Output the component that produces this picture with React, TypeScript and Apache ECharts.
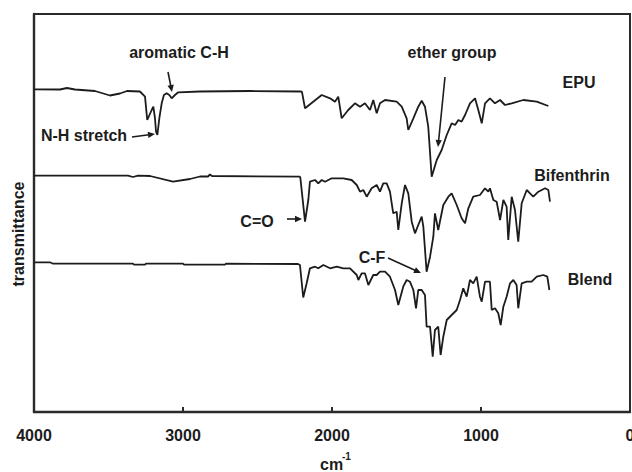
import React, { useEffect, useRef } from "react";
import * as echarts from "echarts";

// Wavenumbers (cm-1) and transmittance (arbitrary units, curves offset)
const epuWavenumber = [4000, 3825, 3779, 3725, 3591, 3490, 3423, 3376, 3289, 3255, 3240, 3210, 3199, 3188, 3181, 3172, 3159, 3143, 3128, 3110, 3092, 3076, 3054, 3032, 2886, 2550, 2215, 2202, 2181, 2126, 2069, 2013, 1980, 1958, 1935, 1891, 1846, 1812, 1779, 1745, 1723, 1700, 1678, 1644, 1566, 1532, 1499, 1488, 1454, 1421, 1398, 1376, 1354, 1331, 1297, 1264, 1230, 1197, 1174, 1152, 1130, 1107, 1074, 1040, 1018, 995, 973, 940, 906, 872, 839, 794, 716, 626, 548];
const epuTransmittance = [322.7, 322.5, 324, 322.5, 321, 316.5, 318.5, 321, 320.5, 315.3, 292, 302, 305.3, 293.7, 280.3, 277, 293.7, 308.7, 317, 318.7, 317, 313.7, 317, 319.7, 320.5, 321, 320.5, 320.3, 303.7, 310.3, 317, 313.7, 310.3, 315.3, 293.7, 302, 308.7, 305.3, 308.7, 302, 312, 298.7, 308.7, 312, 310.3, 305.3, 293.7, 282, 293.7, 305.3, 311.3, 305.3, 285.3, 235.3, 252, 262, 277, 288.7, 287, 292, 290.3, 297, 308.7, 313.7, 302, 288.7, 308.7, 313.7, 308.7, 312, 307, 308.7, 312, 310.3, 306];

const bifenthrinWavenumber = [4000, 3369, 3336, 3302, 3221, 3067, 2953, 2886, 2832, 2819, 2805, 2215, 2212, 2181, 2159, 2148, 2114, 2092, 2069, 2047, 2002, 1924, 1868, 1834, 1812, 1790, 1767, 1734, 1700, 1678, 1656, 1633, 1611, 1589, 1566, 1555, 1532, 1510, 1488, 1465, 1443, 1421, 1398, 1387, 1365, 1342, 1320, 1309, 1287, 1253, 1219, 1197, 1163, 1130, 1107, 1085, 1052, 1007, 973, 951, 940, 917, 895, 872, 850, 828, 817, 794, 772, 750, 727, 693, 671, 649, 615, 570, 548, 537];
const bifenthrinTransmittance = [236.3, 236.3, 235, 236.3, 236, 230.3, 233, 235.5, 235.5, 237.5, 236, 235.3, 233.7, 190.3, 212, 230.3, 232, 228.7, 232, 230.3, 233.7, 233.7, 232, 227, 220.3, 222, 215.3, 223.7, 227, 220.3, 228.7, 228.7, 220.3, 198.7, 200.3, 182, 208.7, 227, 218.7, 190.3, 178.7, 187, 195.3, 185.3, 140.3, 155.3, 175.3, 198.7, 182, 207, 215.3, 218.7, 207, 193.7, 188.7, 203.7, 215.3, 217, 223.7, 220.3, 223.7, 212, 210.3, 192, 212, 205.3, 172, 215.3, 202, 170.3, 208.7, 222, 218.7, 215.3, 220.3, 223.7, 222, 210.3];

const blendWavenumber = [4000, 3893, 3872, 3336, 3329, 3255, 3248, 3000, 2993, 2718, 2711, 2228, 2215, 2193, 2170, 2148, 2114, 2092, 2058, 2013, 1968, 1924, 1879, 1834, 1823, 1801, 1779, 1756, 1723, 1700, 1678, 1644, 1611, 1577, 1555, 1522, 1499, 1477, 1454, 1436, 1421, 1398, 1376, 1365, 1342, 1324, 1309, 1287, 1271, 1253, 1230, 1197, 1163, 1141, 1119, 1096, 1074, 1052, 1029, 1007, 995, 973, 940, 928, 906, 884, 868, 850, 828, 805, 783, 761, 750, 727, 693, 660, 626, 582, 555, 541];
const blendTransmittance = [149.7, 149.7, 148.3, 148.3, 147.3, 147.3, 148.3, 148.3, 147.3, 147.3, 148.3, 148, 147, 114.5, 128.7, 143.7, 145.3, 143.7, 147, 143.7, 145.3, 143.7, 143.7, 137, 132, 138.7, 138.7, 127, 137, 137, 140.3, 140.3, 135.3, 122, 107, 125.3, 132, 130.3, 122, 103.7, 122, 122, 117, 85.3, 85.3, 55.3, 82, 85.3, 57, 75.3, 92, 97, 102, 112, 123.7, 115.3, 132, 128.7, 135.3, 115.3, 110.3, 130.3, 130.3, 102, 103.7, 98.7, 87, 105.3, 115.3, 128.7, 132, 127, 103.7, 128.7, 130.3, 130.3, 135.3, 137, 135.3, 122];

const xTicks = [4000, 3000, 2000, 1000, 0];
const seriesNames = ["EPU", "Bifenthrin", "Blend"];
const xAxisTitle = "cm";
const xAxisTitleSup = "-1";
const yAxisTitle = "transmittance";

const FONT = 'Arial, "Liberation Sans", Helvetica, sans-serif';
const INK = "#1c1c1c";
const FRAME = "#2a2a2a";

const GRID = { left: 34, right: 2, top: 14, bottom: 60 };
const W = 632;
const H = 472;

function zip(a: number[], b: number[]) {
  return a.map((x, i) => [x, b[i]]);
}

function label(text: string, x: number, y: number, extra: any = {}) {
  return {
    type: "text",
    x,
    y,
    silent: true,
    style: {
      text,
      fill: INK,
      font: `bold 16px ${FONT}`,
      align: "center",
      verticalAlign: "middle",
      ...extra,
    },
  };
}

function arrow(x1: number, y1: number, x2: number, y2: number) {
  const dx = x2 - x1;
  const dy = y2 - y1;
  const len = Math.sqrt(dx * dx + dy * dy);
  const ux = dx / len;
  const uy = dy / len;
  const hl = 7;
  const hw = 3.2;
  const bx = x2 - ux * hl;
  const by = y2 - uy * hl;
  return [
    {
      type: "line",
      silent: true,
      shape: { x1, y1, x2: bx + ux * 1, y2: by + uy * 1 },
      style: { stroke: INK, lineWidth: 1.6 },
    },
    {
      type: "polygon",
      silent: true,
      shape: {
        points: [
          [x2, y2],
          [bx - uy * hw, by + ux * hw],
          [bx + uy * hw, by - ux * hw],
        ],
      },
      style: { fill: INK },
    },
  ];
}

export default function App() {
  const ref = useRef<HTMLDivElement>(null);
  useEffect(() => {
    if (!ref.current) return;
    const chart = echarts.init(ref.current, undefined, { renderer: "svg", width: W, height: H });
    const lineSeries = (name: string, data: number[][]) => ({
      name,
      type: "line",
      data,
      showSymbol: false,
      symbol: "none",
      smooth: false,
      lineStyle: { color: INK, width: 1.8 },
      silent: true,
    });
    const gx2 = W - GRID.right;
    const gy2 = H - GRID.bottom;
    chart.setOption({
      animation: false,
      backgroundColor: "#ffffff",
      grid: { ...GRID, outerBoundsMode: "none", containLabel: false },
      xAxis: {
        type: "value",
        min: 0,
        max: 4000,
        interval: 1000,
        inverse: true,
        axisLine: { show: true, onZero: false, lineStyle: { color: FRAME, width: 2.4 } },
        axisTick: { show: true, inside: true, length: 5, lineStyle: { color: FRAME, width: 2 } },
        axisLabel: {
          show: true,
          showMinLabel: true,
          showMaxLabel: true,
          fontSize: 16,
          fontWeight: "bold",
          fontFamily: FONT,
          color: INK,
          margin: 15,
          formatter: (v: number) => (xTicks.includes(v) ? String(v) : ""),
        },
        splitLine: { show: false },
      },
      yAxis: {
        type: "value",
        min: 0,
        max: 398,
        axisLine: { show: true, onZero: false, lineStyle: { color: FRAME, width: 2.4 } },
        axisTick: { show: false },
        axisLabel: { show: false },
        splitLine: { show: false },
      },
      series: [
        lineSeries(seriesNames[0], zip(epuWavenumber, epuTransmittance)),
        lineSeries(seriesNames[1], zip(bifenthrinWavenumber, bifenthrinTransmittance)),
        lineSeries(seriesNames[2], zip(blendWavenumber, blendTransmittance)),
      ],
      graphic: [
        {
          type: "polyline",
          silent: true,
          shape: {
            points: [
              [GRID.left, GRID.top],
              [gx2, GRID.top],
              [gx2, gy2],
            ],
          },
          style: { stroke: FRAME, lineWidth: 2, fill: "none" },
        },
        label("aromatic C-H", 179, 52),
        label("N-H stretch", 84, 135),
        label("ether group", 452, 52),
        label(seriesNames[0], 579, 82),
        label(seriesNames[1], 572, 175),
        label("C=O", 257, 221),
        label("C-F", 372, 257),
        label(seriesNames[2], 590, 279),
        {
          type: "text",
          x: 18,
          y: 234,
          rotation: Math.PI / 2,
          silent: true,
          style: {
            text: yAxisTitle,
            fill: INK,
            font: `bold 16px ${FONT}`,
            align: "center",
            verticalAlign: "middle",
          },
        },
        {
          type: "text",
          x: 320,
          y: 464,
          silent: true,
          style: { text: xAxisTitle, fill: INK, font: `bold 16px ${FONT}`, align: "left", verticalAlign: "middle" },
        },
        {
          type: "text",
          x: 342,
          y: 456,
          silent: true,
          style: { text: xAxisTitleSup, fill: INK, font: `bold 10px ${FONT}`, align: "left", verticalAlign: "middle" },
        },
        ...arrow(168, 72, 172, 92),
        ...arrow(132, 137, 155, 134),
        ...arrow(445, 77, 438, 147),
        ...arrow(287, 219, 302, 219),
        ...arrow(388, 258, 421, 273),
      ],
    });
    return () => chart.dispose();
  }, []);
  return (
    <div
      ref={ref}
      style={{ position: "absolute", left: 0, top: 0, width: W, height: H }}
    />
  );
}
